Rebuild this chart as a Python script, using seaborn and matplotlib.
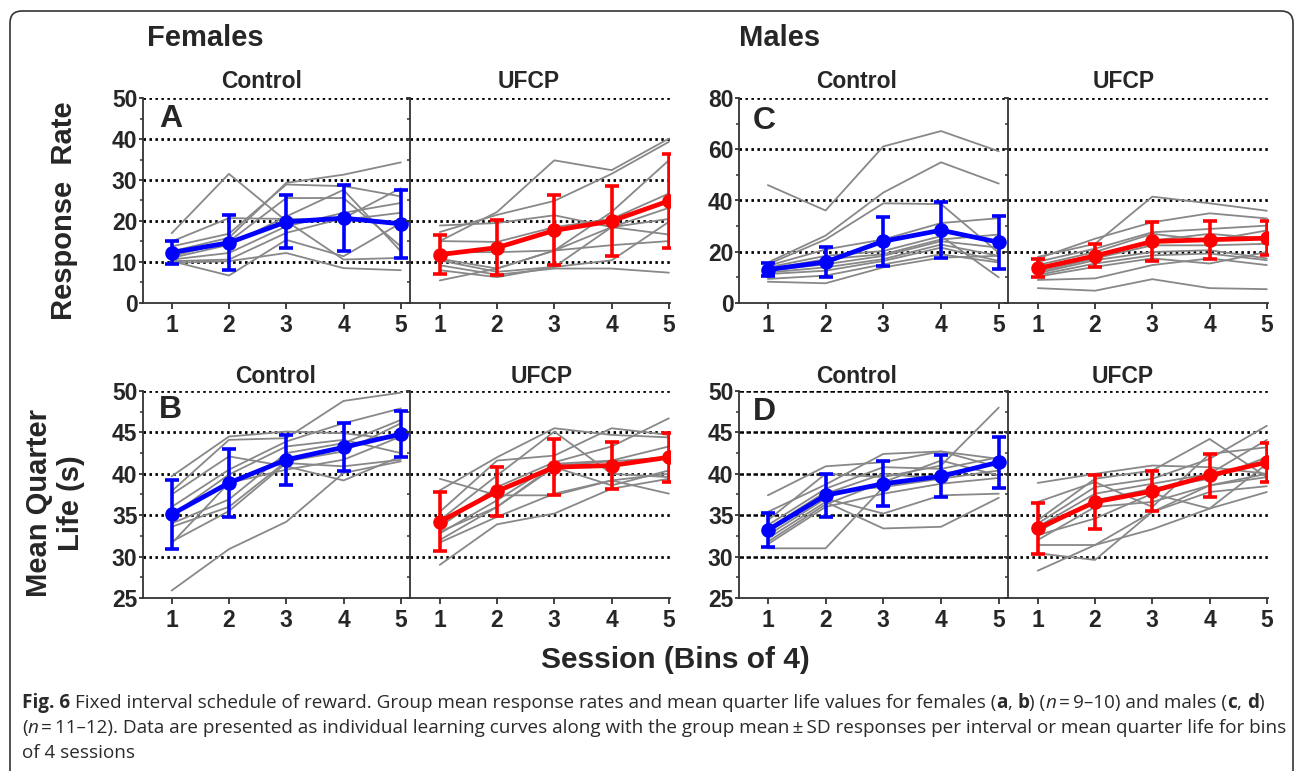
import numpy as np
import pandas as pd
import matplotlib
matplotlib.use("Agg")
import matplotlib.pyplot as plt
import seaborn as sns
from matplotlib.patches import FancyBboxPatch
from matplotlib.ticker import MultipleLocator
from matplotlib.transforms import IdentityTransform
from matplotlib.font_manager import FontProperties

# ---------------- data ----------------
sessions = [1, 2, 3, 4, 5]
session_labels = ["1", "2", "3", "4", "5"]

# A: Females, response rate
a_ctrl_subjects = [
    [17.0, 31.5, 20.0, 10.6, 11.0],
    [15.0, 20.7, 20.5, 20.3, 22.0],
    [13.8, 16.9, 28.9, 28.5, 26.0],
    [12.6, 15.9, 29.3, 31.3, 34.3],
    [11.4, 15.0, 25.6, 25.6, 13.8],
    [11.0, 14.2, 21.1, 27.6, 12.6],
    [10.6, 12.2, 18.7, 22.0, 24.4],
    [10.2, 10.6, 17.1, 20.7, 28.0],
    [9.8, 10.2, 12.2, 8.5, 8.0],
    [10.2, 6.7, 15.4, 11.4, 19.5],
]
a_ctrl_mean = [12.3, 14.7, 19.8, 20.7, 19.3]
a_ctrl_sd = [2.85, 6.75, 6.45, 8.05, 8.3]

a_ufcp_subjects = [
    [15.1, 22.2, 34.8, 32.4, 40.1],
    [17.3, 21.5, 24.9, 31.5, 39.3],
    [18.9, 19.5, 21.4, 18.5, 16.7],
    [15.1, 14.9, 18.5, 20.5, 26.7],
    [12.4, 12.4, 12.8, 22.2, 34.8],
    [10.8, 8.4, 12.8, 14.1, 15.1],
    [10.4, 7.6, 8.8, 10.4, 19.8],
    [9.2, 6.9, 8.4, 8.4, 7.4],
    [8.0, 6.3, 8.8, 18.5, 23.2],
    [5.5, 8.4, 12.8, 18.5, 20.5],
]
a_ufcp_mean = [11.8, 13.5, 17.7, 20.0, 24.9]
a_ufcp_sd = [4.75, 6.65, 8.55, 8.55, 11.45]

# C: Males, response rate
c_ctrl_subjects = [
    [46.0, 36.1, 61.1, 67.1, 59.2],
    [15.8, 26.3, 43.1, 54.9, 46.6],
    [15.1, 24.8, 38.9, 38.6, 19.6],
    [14.5, 20.9, 24.8, 31.2, 33.1],
    [13.9, 18.4, 20.3, 26.1, 10.0],
    [13.2, 17.1, 19.0, 24.8, 26.7],
    [12.6, 15.1, 18.4, 24.1, 21.6],
    [11.9, 13.9, 17.1, 22.8, 18.4],
    [11.3, 12.6, 16.4, 21.6, 16.4],
    [9.4, 10.7, 15.1, 19.0, 15.8],
    [8.3, 7.7, 13.9, 17.7, 18.4],
]
c_ctrl_mean = [13.0, 16.0, 24.1, 28.4, 23.7]
c_ctrl_sd = [2.55, 6.0, 9.65, 11.0, 10.3]

c_ufcp_subjects = [
    [18.0, 23.1, 41.5, 38.9, 36.0],
    [17.4, 25.1, 31.5, 35.0, 33.0],
    [16.1, 21.2, 27.6, 28.9, 30.2],
    [14.8, 19.9, 27.0, 24.4, 28.3],
    [13.5, 18.6, 24.4, 27.0, 25.1],
    [12.2, 17.4, 22.5, 22.5, 23.1],
    [11.6, 16.7, 19.9, 20.6, 17.4],
    [10.9, 15.4, 18.6, 19.3, 16.7],
    [10.3, 14.1, 17.4, 15.4, 19.9],
    [9.0, 9.6, 14.8, 17.4, 14.8],
    [5.8, 4.8, 9.3, 5.8, 5.4],
]
c_ufcp_mean = [13.5, 18.4, 24.0, 24.7, 25.3]
c_ufcp_sd = [3.5, 4.5, 7.7, 7.4, 6.75]

# B: Females, mean quarter life
b_ctrl_subjects = [
    [25.9, 30.9, 34.2, 40.1, 41.5],
    [39.7, 44.5, 45.1, 44.9, 44.1],
    [37.9, 44.1, 44.3, 48.8, 49.8],
    [37.5, 42.1, 40.9, 39.2, 42.1],
    [36.0, 40.5, 43.9, 46.1, 47.9],
    [35.0, 39.9, 43.3, 44.1, 42.5],
    [34.0, 36.9, 42.5, 43.7, 46.5],
    [33.6, 36.0, 41.5, 42.7, 46.1],
    [31.8, 35.5, 41.3, 40.9, 41.7],
    [31.6, 38.9, 40.5, 41.7, 44.5],
]
b_ctrl_mean = [35.1, 38.9, 41.7, 43.2, 44.8]
b_ctrl_sd = [4.2, 4.1, 3.0, 2.9, 2.8]

b_ufcp_subjects = [
    [39.4, 37.4, 37.4, 39.2, 37.6],
    [38.0, 42.0, 45.5, 44.7, 44.4],
    [35.4, 41.6, 42.2, 45.5, 44.7],
    [34.4, 39.8, 45.1, 40.0, 39.6],
    [33.6, 38.4, 41.4, 43.3, 46.7],
    [32.8, 36.8, 41.2, 41.6, 43.3],
    [32.0, 36.0, 40.8, 38.6, 40.4],
    [31.7, 34.8, 37.6, 39.2, 40.0],
    [29.0, 33.9, 35.2, 38.2, 39.4],
    [33.0, 36.0, 41.0, 41.5, 42.0],
]
b_ufcp_mean = [34.2, 37.9, 40.8, 41.0, 42.0]
b_ufcp_sd = [3.55, 2.95, 3.4, 2.8, 2.95]

# D: Males, mean quarter life
d_ctrl_subjects = [
    [37.4, 40.9, 41.4, 42.7, 41.8],
    [35.4, 38.7, 42.4, 42.7, 40.8],
    [34.4, 40.0, 39.6, 41.0, 48.0],
    [33.8, 38.2, 40.8, 40.6, 42.0],
    [33.4, 37.8, 38.4, 40.0, 41.2],
    [33.0, 37.6, 40.0, 39.4, 40.4],
    [32.6, 37.0, 35.2, 37.4, 37.6],
    [32.2, 36.6, 33.4, 33.6, 37.1],
    [31.8, 36.3, 39.0, 41.6, 39.8],
    [31.5, 36.0, 37.6, 38.8, 39.5],
    [31.0, 31.0, 38.4, 39.4, 41.6],
]
d_ctrl_mean = [33.2, 37.4, 38.8, 39.7, 41.4]
d_ctrl_sd = [2.1, 2.6, 2.7, 2.55, 3.1]

d_ufcp_subjects = [
    [38.9, 40.0, 41.0, 40.8, 40.0],
    [36.6, 39.0, 36.0, 42.4, 43.2],
    [34.4, 39.4, 40.4, 44.2, 39.6],
    [34.0, 38.4, 39.4, 41.8, 45.8],
    [33.6, 37.6, 38.8, 40.0, 44.1],
    [33.0, 36.8, 38.2, 39.4, 42.0],
    [32.6, 34.6, 37.6, 35.8, 41.2],
    [32.0, 36.0, 36.6, 38.6, 40.0],
    [31.4, 31.4, 35.4, 37.8, 38.5],
    [30.4, 29.6, 35.4, 38.6, 39.6],
    [28.3, 31.4, 33.3, 35.8, 37.8],
]
d_ufcp_mean = [33.4, 36.6, 37.9, 39.8, 41.4]
d_ufcp_sd = [3.05, 3.3, 2.4, 2.55, 2.35]

# ---------------- style ----------------
sns.set_style("ticks")
plt.rcParams["font.family"] = ["Liberation Sans", "DejaVu Sans"]
plt.rcParams["font.weight"] = "bold"

W, H = 1295, 771
fig = plt.figure(figsize=(W / 100, H / 100), dpi=100)

GRAY = "#888888"
BLUE = "#0000ff"
RED = "#ff0000"
TICK_FS = 16.5


def rect(x0, x1, ytop, ybot):
    return [x0 / W, 1 - ybot / H, (x1 - x0) / W, (ybot - ytop) / H]


def long_df(subjects):
    rows = []
    for i, s in enumerate(subjects):
        for x, v in zip(sessions, s):
            rows.append({"session": x, "value": v, "subject": i})
    return pd.DataFrame(rows)


def panel(pos, subjects, mean, sd, color, ylim, major, minor, is_ctrl,
          letter=None, letter_pos=None, grid_style=(0, (0.9, 1.25)), grid_lw=2.0):
    ax = fig.add_axes(pos)
    xlim = (0.5, 5.16) if is_ctrl else (0.48, 5.02)
    for gy in np.arange(ylim[0] + major, ylim[1] + 0.01, major):
        ax.axhline(gy, color="black", lw=grid_lw, ls=grid_style, zorder=1)
    sns.lineplot(data=long_df(subjects), x="session", y="value", units="subject",
                 estimator=None, color=GRAY, linewidth=1.3, ax=ax, zorder=2)
    sns.lineplot(x=sessions, y=mean, color=color, linewidth=3.4, marker="o",
                 markersize=10.5, markeredgewidth=0, ax=ax, zorder=4)
    ax.errorbar(sessions, mean, yerr=sd, fmt="none", ecolor=color, elinewidth=2.6,
                capsize=4.8, capthick=2.6, zorder=4)
    ax.set_xlim(*xlim)
    ax.set_ylim(*ylim)
    ax.set_xlabel("")
    ax.set_ylabel("")
    ax.set_xticks(sessions)
    ax.set_xticklabels(session_labels, fontsize=TICK_FS, fontweight="bold")
    ax.yaxis.set_major_locator(MultipleLocator(major))
    ax.yaxis.set_minor_locator(MultipleLocator(minor))
    if is_ctrl:
        ax.tick_params(axis="y", labelsize=TICK_FS)
        for lab in ax.get_yticklabels():
            lab.set_fontweight("bold")
    else:
        ax.tick_params(axis="y", labelleft=False)
    ax.tick_params(axis="y", which="major", length=3.2, width=1.3, pad=0.8, color="#333")
    ax.tick_params(axis="y", which="minor", length=2.2, width=1.1, color="#333")
    ax.tick_params(axis="x", which="major", length=4.5, width=1.3, pad=3.5, color="#333")
    ax.tick_params(axis="x", which="minor", bottom=False)
    for sp in ["top", "right"]:
        ax.spines[sp].set_visible(False)
    for sp in ["left", "bottom"]:
        ax.spines[sp].set_linewidth(1.3)
        ax.spines[sp].set_color("#333")
    ax.set_facecolor("none")
    if letter:
        ax.text(letter_pos[0], letter_pos[1], letter, transform=ax.transAxes,
                fontsize=23, fontweight="bold", ha="left", va="top")
    return ax


TOP = (98, 303)
BOT = (391, 598)

panel(rect(143, 410, *TOP), a_ctrl_subjects, a_ctrl_mean, a_ctrl_sd, BLUE,
      (0, 50), 10, 5, True, "A", (0.06, 0.97))
panel(rect(410, 670, *TOP), a_ufcp_subjects, a_ufcp_mean, a_ufcp_sd, RED,
      (0, 50), 10, 5, False)
panel(rect(739, 1008, *TOP), c_ctrl_subjects, c_ctrl_mean, c_ctrl_sd, BLUE,
      (0, 80), 20, 10, True, "C", (0.05, 0.96))
panel(rect(1008, 1268, *TOP), c_ufcp_subjects, c_ufcp_mean, c_ufcp_sd, RED,
      (0, 80), 20, 10, False)

panel(rect(143, 410, *BOT), b_ctrl_subjects, b_ctrl_mean, b_ctrl_sd, BLUE,
      (25, 50), 5, 2.5, True, "B", (0.06, 0.98))
panel(rect(410, 670, *BOT), b_ufcp_subjects, b_ufcp_mean, b_ufcp_sd, RED,
      (25, 50), 5, 2.5, False)
panel(rect(739, 1008, *BOT), d_ctrl_subjects, d_ctrl_mean, d_ctrl_sd, BLUE,
      (25, 50), 5, 2.5, True, "D", (0.05, 0.97), grid_style=(0, (1.8, 1.0)), grid_lw=1.8)
panel(rect(1008, 1268, *BOT), d_ufcp_subjects, d_ufcp_mean, d_ufcp_sd, RED,
      (25, 50), 5, 2.5, False)


def ftext(x, y, s, **kw):
    return fig.text(x / W, 1 - y / H, s, **kw)


# group / panel titles
ftext(147, 38, "Females", fontsize=21, fontweight="bold", ha="left", va="center")
ftext(739, 38, "Males", fontsize=21, fontweight="bold", ha="left", va="center")
for x, y, s in [(262, 81, "Control"), (529, 81, "UFCP"), (857, 81, "Control"), (1124, 81, "UFCP"),
                (276, 376, "Control"), (542, 376, "UFCP"), (857, 376, "Control"), (1123, 376, "UFCP")]:
    ftext(x, y, s, fontsize=16.5, fontweight="bold", ha="center", va="center")

ftext(64, 211, "Response  Rate", fontsize=21, fontweight="bold", rotation=90,
      ha="center", va="center")
ftext(55, 503, "Mean Quarter\nLife (s)", fontsize=21, fontweight="bold", rotation=90,
      ha="center", va="center", multialignment="center", linespacing=1.15)
ftext(675, 660, "Session (Bins of 4)", fontsize=21.5, fontweight="bold",
      ha="center", va="center")

# outer rounded frame
frame = FancyBboxPatch((10, -30), 1283, 790, boxstyle="round,pad=0,rounding_size=12",
                       transform=IdentityTransform(), facecolor="none",
                       edgecolor="#333333", linewidth=1.2)
fig.add_artist(frame)

# caption with mixed styles
renderer = fig.canvas.get_renderer()
CAP_FAMILY = ["Open Sans", "DejaVu Sans"]
caption_lines = [
    [("Fig. 6 ", "bold", "normal"),
     ("Fixed interval schedule of reward. Group mean response rates and mean quarter life values for females (", "normal", "normal"),
     ("a", "bold", "normal"), (", ", "normal", "normal"), ("b", "bold", "normal"),
     (") (", "normal", "normal"), ("n", "normal", "italic"),
     ("\u2009=\u20099\u201310) and males (", "normal", "normal"),
     ("c", "bold", "normal"), (", ", "normal", "normal"), ("d", "bold", "normal"),
     (")", "normal", "normal")],
    [("(", "normal", "normal"), ("n", "normal", "italic"),
     ("\u2009=\u200911\u201312). Data are presented as individual learning curves along with the group mean\u2009\u00b1\u2009SD responses per interval or mean quarter life for bins", "normal", "normal")],
    [("of 4 sessions", "normal", "normal")],
]
caption_y = [703, 728, 753]


def run_width(s, weight, style, size):
    fp = FontProperties(family=CAP_FAMILY, weight=weight, style=style, size=size)
    w1, _, _ = renderer.get_text_width_height_descent(s + "x", fp, ismath=False)
    w2, _, _ = renderer.get_text_width_height_descent("x", fp, ismath=False)
    return (w1 - w2)


base = 10.0
total = sum(run_width(s, w, st, base) for s, w, st in caption_lines[0])
cap_size = base * (1238.0 / total)

for runs, yy in zip(caption_lines, caption_y):
    x = 22.0
    for s, w, st in runs:
        ftext(x, yy, s, fontsize=cap_size, fontweight=w, fontstyle=st,
              family=CAP_FAMILY, ha="left", va="center", color="#2a2a2a")
        x += run_width(s, w, st, cap_size)

fig.savefig("out.png", dpi=100)
